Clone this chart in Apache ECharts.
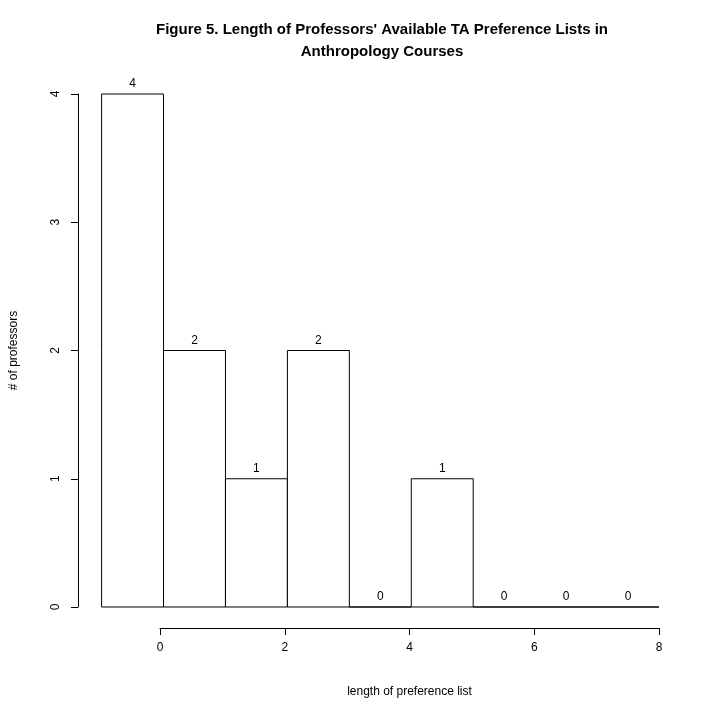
<!DOCTYPE html>
<html><head><meta charset="utf-8">
<script src="https://cdn.jsdelivr.net/npm/echarts@6/dist/echarts.min.js"></script>
<style>html,body{margin:0;background:#fff}#c{width:720px;height:720px}</style>
</head><body><div id="c"></div>
<script>
const binStarts = [-1, 0, 1, 2, 3, 4, 5, 6, 7];
const binEnds   = [0, 1, 2, 3, 4, 5, 6, 7, 8];
const counts    = [4, 2, 1, 2, 0, 1, 0, 0, 0];
const xTicks = [0, 2, 4, 6, 8];
const yTicks = [0, 1, 2, 3, 4];

const F = 'Liberation Sans, Arial, sans-serif';
const data = counts.map((c, i) => [binStarts[i], binEnds[i], c]);
const chart = echarts.init(document.getElementById('c'));
chart.setOption({
  backgroundColor: '#fff',
  animation: false,
  title: {
    text: "Figure 5. Length of Professors' Available TA Preference Lists in\nAnthropology Courses",
    left: 377, top: 14, textAlign: 'center',
    textStyle: {fontFamily: F, fontSize: 15, fontWeight: 'bold', color: '#000', lineHeight: 22}
  },
  grid: [
    {left: 97.6, right: 61, top: 94, bottom: 113},
    {left: 160, right: 61, top: 94, bottom: 113}
  ],
  xAxis: [
    {gridIndex: 0, type: 'value', min: -1, max: 8, show: false},
    {gridIndex: 1, type: 'value', min: 0, max: 8, interval: 2, offset: 21,
     axisLine: {show: true, onZero: false, lineStyle: {color: '#000'}},
     axisTick: {show: true, length: 7, lineStyle: {color: '#000'}},
     axisLabel: {fontFamily: F, fontSize: 12, color: '#000', margin: 14},
     splitLine: {show: false},
     name: 'length of preference list', nameLocation: 'middle', nameGap: 58,
     nameTextStyle: {fontFamily: F, fontSize: 12, color: '#000'}}
  ],
  yAxis: [
    {gridIndex: 0, type: 'value', min: 0, max: 4, interval: 1, offset: 23.6,
     axisLine: {show: true, onZero: false, lineStyle: {color: '#000'}},
     axisTick: {show: true, length: 7, lineStyle: {color: '#000'}},
     axisLabel: {fontFamily: F, fontSize: 12, color: '#000', rotate: 90, margin: 16},
     splitLine: {show: false},
     name: '# of professors', nameLocation: 'middle', nameGap: 58, nameRotate: 90,
     nameTextStyle: {fontFamily: F, fontSize: 12, color: '#000'}},
    {gridIndex: 1, type: 'value', min: 0, max: 4, show: false}
  ],
  series: [{
    type: 'custom', xAxisIndex: 0, yAxisIndex: 0, data: data,
    renderItem: function (params, api) {
      const p0 = api.coord([api.value(0), 0]);
      const p1 = api.coord([api.value(1), api.value(2)]);
      return {type: 'group', children: [
        {type: 'rect', shape: {x: p0[0], y: p1[1], width: p1[0] - p0[0], height: p0[1] - p1[1]},
         style: {fill: '#fff', stroke: '#000', lineWidth: 1}},
        {type: 'text', x: (p0[0] + p1[0]) / 2, y: p1[1] - 4,
         style: {text: String(api.value(2)), textAlign: 'center', textVerticalAlign: 'bottom',
                 font: '12px ' + F, fill: '#000'}}
      ]};
    }
  }]
});
</script></body></html>
